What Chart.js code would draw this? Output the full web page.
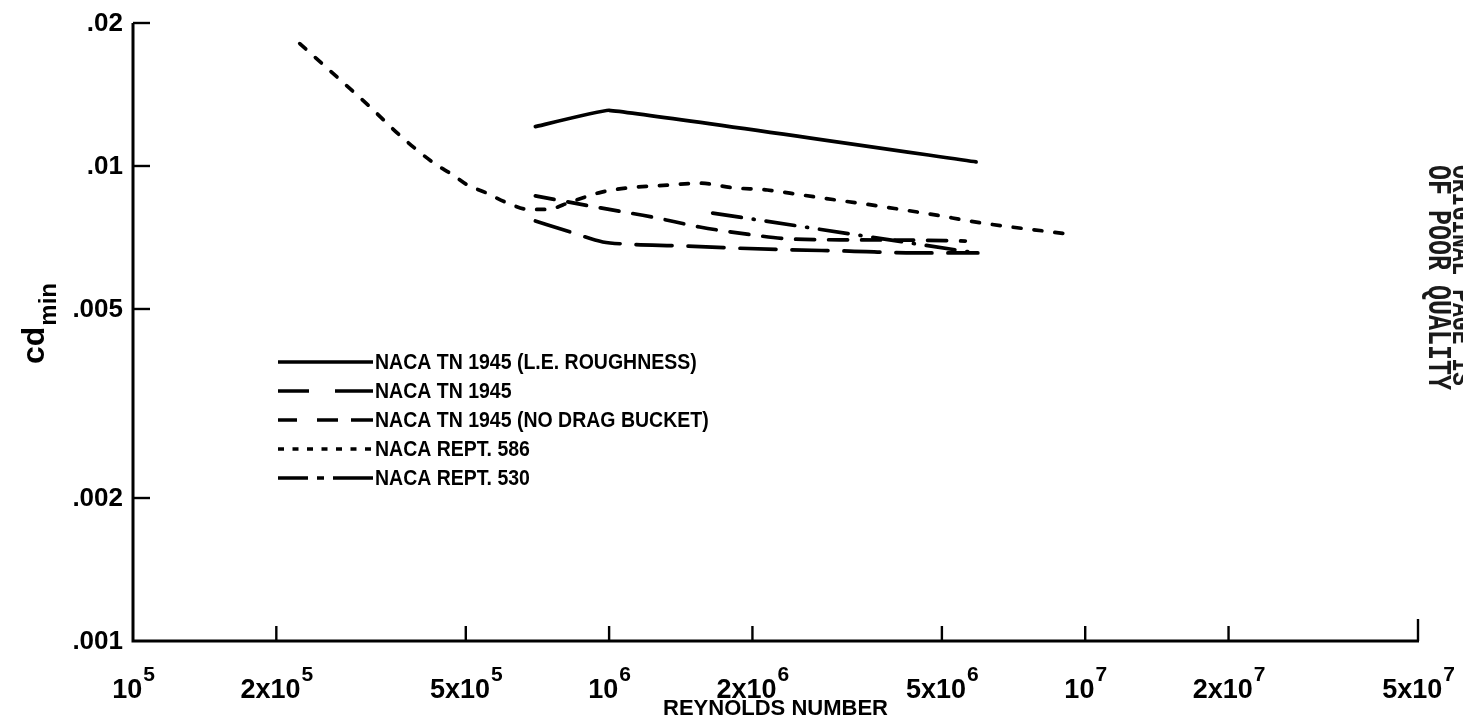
<!DOCTYPE html>
<html>
<head>
<meta charset="utf-8">
<script src="https://cdn.jsdelivr.net/npm/chart.js@4.4.0/dist/chart.umd.min.js"></script>
<style>
  html, body { margin: 0; padding: 0; background: #fff; }
  canvas { display: block; }
</style>
</head>
<body>
<canvas id="chart" width="1463" height="720"></canvas>
<script>
// Reynolds-number axis ticks (value, base text, exponent)
const reTicks = [1e5, 2e5, 5e5, 1e6, 2e6, 5e6, 1e7, 2e7, 5e7];
const reTickBase = ['10', '2x10', '5x10', '10', '2x10', '5x10', '10', '2x10', '5x10'];
const reTickExp = ['5', '5', '5', '6', '6', '6', '7', '7', '7'];

// Minimum drag coefficient axis ticks
const cdTicks = [0.02, 0.01, 0.005, 0.002, 0.001];
const cdTickLabels = ['.02', '.01', '.005', '.002', '.001'];

// NACA TN 1945 (L.E. roughness)
const roughRe = [7.0e5, 1.0e6, 5.9e6];
const roughCd = [0.0121, 0.0131, 0.0102];

// NACA TN 1945
const tnRe = [7.0e5, 8.4e5, 9.7e5, 1.08e6, 1.41e6, 1.82e6, 2.4e6, 3.2e6, 4.4e6, 5.95e6];
const tnCd = [0.00766, 0.00723, 0.00692, 0.00685, 0.00679, 0.00672, 0.00666, 0.00662, 0.00656, 0.00656];

// NACA TN 1945 (no drag bucket)
const noBucketRe = [7.0e5, 9.6e5, 1.23e6, 1.55e6, 2.0e6, 2.4e6, 3.2e6, 4.3e6, 5.6e6];
const noBucketCd = [0.00865, 0.00816, 0.00781, 0.00744, 0.00716, 0.00702, 0.00699, 0.00698, 0.00695];

// NACA Rept. 586
const r586Re = [2.24e5, 2.7e5, 3.15e5, 3.67e5, 4.31e5, 4.68e5, 5.06e5, 5.49e5, 6.05e5, 6.8e5, 7.4e5,
                8.3e5, 9.6e5, 1.1e6, 1.3e6, 1.55e6, 1.82e6, 2.15e6, 2.52e6, 2.95e6, 3.5e6, 4.1e6,
                4.8e6, 6.0e6, 9.1e6];
const r586Cd = [0.0181, 0.0153, 0.0133, 0.0115, 0.0101, 0.0096, 0.0091, 0.0088, 0.0084, 0.0081, 0.0081,
                0.0084, 0.0088, 0.0090, 0.0091, 0.0092, 0.0090, 0.0089, 0.0087, 0.0085, 0.0083, 0.0081,
                0.0079, 0.0076, 0.0072];

// NACA Rept. 530
const r530Re = [1.65e6, 5.9e6];
const r530Cd = [0.00796, 0.00656];

const FONT = '"Liberation Sans", Arial, Helvetica, sans-serif';
const MONO = '"Liberation Mono", "DejaVu Sans Mono", monospace';
const INK = '#000';

function pairs(xs, ys) { return xs.map((x, i) => ({ x: x, y: ys[i] })); }

function series(label, xs, ys, dash, legendDash, extra) {
  return Object.assign({
    label: label,
    data: pairs(xs, ys),
    borderColor: INK,
    borderWidth: 3.7,
    borderDash: dash,
    borderCapStyle: 'round',
    pointRadius: 0,
    fill: false,
    legendDash: legendDash
  }, extra || {});
}

const datasets = [
  series('NACA TN 1945 (L.E. ROUGHNESS)', roughRe, roughCd, [], [], { tension: 0.08 }),
  series('NACA TN 1945', tnRe, tnCd, [36, 16], [31, 26, 38, 0], { cubicInterpolationMode: 'monotone' }),
  series('NACA TN 1945 (NO DRAG BUCKET)', noBucketRe, noBucketCd, [19, 14], [19, 20, 21, 13, 22, 0], { cubicInterpolationMode: 'monotone' }),
  series('NACA REPT. 586', r586Re, r586Cd, [8, 13], [6, 8.5], { cubicInterpolationMode: 'monotone' }),
  series('NACA REPT. 530', r530Re, r530Cd, [29, 12, 1, 12], [30, 9, 7, 9, 40, 0])
];

// Axes, tick marks, labels, legend and margin stamp drawn from the chart's scales
const paperPlugin = {
  id: 'paperAxes',
  afterDraw(chart) {
    const ctx = chart.ctx;
    const xs = chart.scales.x, ys = chart.scales.y;
    const x0 = xs.getPixelForValue(reTicks[0]);
    const x1 = xs.getPixelForValue(reTicks[reTicks.length - 1]);
    const yTop = ys.getPixelForValue(cdTicks[0]);
    const yBot = ys.getPixelForValue(cdTicks[cdTicks.length - 1]);

    ctx.save();
    ctx.strokeStyle = INK;
    ctx.fillStyle = INK;
    ctx.setLineDash([]);

    // axis lines
    ctx.lineWidth = 3;
    ctx.lineCap = 'butt';
    ctx.beginPath();
    ctx.moveTo(x0, yTop);
    ctx.lineTo(x0, yBot);
    ctx.lineTo(x1 + 1, yBot);
    ctx.stroke();

    // inward tick marks
    ctx.lineWidth = 2.4;
    cdTicks.slice(0, -1).forEach(v => {
      const y = ys.getPixelForValue(v);
      ctx.beginPath();
      ctx.moveTo(x0, y);
      ctx.lineTo(x0 + 17, y);
      ctx.stroke();
    });
    reTicks.slice(1).forEach((v, i) => {
      const x = xs.getPixelForValue(v);
      const len = (i === reTicks.length - 2) ? 22 : 15;
      ctx.beginPath();
      ctx.moveTo(x, yBot);
      ctx.lineTo(x, yBot - len);
      ctx.stroke();
    });

    // y tick labels
    ctx.font = 'bold 26px ' + FONT;
    ctx.textAlign = 'right';
    ctx.textBaseline = 'middle';
    cdTicks.forEach((v, i) => {
      ctx.fillText(cdTickLabels[i], x0 - 10, ys.getPixelForValue(v) + 1);
    });

    // x tick labels with raised exponents
    const baseFont = 'bold 27px ' + FONT;
    const expFont = 'bold 21px ' + FONT;
    ctx.textAlign = 'left';
    ctx.textBaseline = 'alphabetic';
    reTicks.forEach((v, i) => {
      ctx.font = baseFont;
      const wb = ctx.measureText(reTickBase[i]).width;
      ctx.font = expFont;
      const we = ctx.measureText(reTickExp[i]).width;
      const left = xs.getPixelForValue(v) - (wb + we) / 2;
      ctx.font = baseFont;
      ctx.fillText(reTickBase[i], left, yBot + 57);
      ctx.font = expFont;
      ctx.fillText(reTickExp[i], left + wb + 1, yBot + 40);
    });

    // x axis title
    ctx.font = 'bold 22px ' + FONT;
    ctx.textAlign = 'center';
    ctx.fillText('REYNOLDS NUMBER', (x0 + x1) / 2, yBot + 74);

    // y axis title: c_d with "min" subscript
    ctx.save();
    ctx.translate(44, 364);
    ctx.rotate(-Math.PI / 2);
    ctx.textAlign = 'left';
    ctx.font = 'bold 32px ' + FONT;
    ctx.fillText('cd', 0, 0);
    const wcd = ctx.measureText('cd').width;
    ctx.font = 'bold 24px ' + FONT;
    ctx.fillText('min', wcd + 1, 12);
    ctx.restore();

    // legend
    const rowY = [362, 391, 420, 449, 478];
    const lineL = 278, lineR = 373;
    chart.data.datasets.forEach((ds, i) => {
      const y = rowY[i];
      ctx.lineWidth = 3.4;
      ctx.lineCap = 'butt';
      ctx.setLineDash(ds.legendDash);
      ctx.beginPath();
      ctx.moveTo(lineL, y);
      ctx.lineTo(lineR, y);
      ctx.stroke();
      ctx.setLineDash([]);
      ctx.save();
      ctx.translate(lineR + 2, y + 1);
      ctx.scale(1, 1.1);
      ctx.font = 'bold 19.5px ' + FONT;
      ctx.textAlign = 'left';
      ctx.textBaseline = 'middle';
      ctx.fillText(ds.label, 0, 0);
      ctx.restore();
    });

    // rotated margin stamp
    ctx.fillStyle = '#1a1a1a';
    ctx.textBaseline = 'middle';
    ctx.textAlign = 'left';
    ctx.save();
    ctx.translate(1437, 165);
    ctx.rotate(Math.PI / 2);
    ctx.scale(1, 1.3);
    ctx.font = 'bold 25px ' + MONO;
    ctx.fillText('OF POOR QUALITY', 0, 0);
    ctx.restore();
    ctx.save();
    ctx.translate(1460, 165);
    ctx.rotate(Math.PI / 2);
    ctx.scale(1, 1.2);
    ctx.font = 'bold 23px ' + MONO;
    ctx.fillText('ORIGINAL PAGE IS', 0, 0);
    ctx.restore();

    ctx.restore();
  }
};

new Chart(document.getElementById('chart'), {
  type: 'line',
  data: { datasets: datasets },
  options: {
    responsive: false,
    animation: false,
    devicePixelRatio: 1,
    layout: { padding: { left: 133, right: 45, top: 23, bottom: 79 } },
    plugins: { legend: { display: false }, tooltip: { enabled: false } },
    scales: {
      x: { type: 'logarithmic', min: 1e5, max: 5e7, display: false },
      y: { type: 'logarithmic', min: 0.001, max: 0.02, display: false }
    }
  },
  plugins: [paperPlugin]
});
</script>
</body>
</html>
